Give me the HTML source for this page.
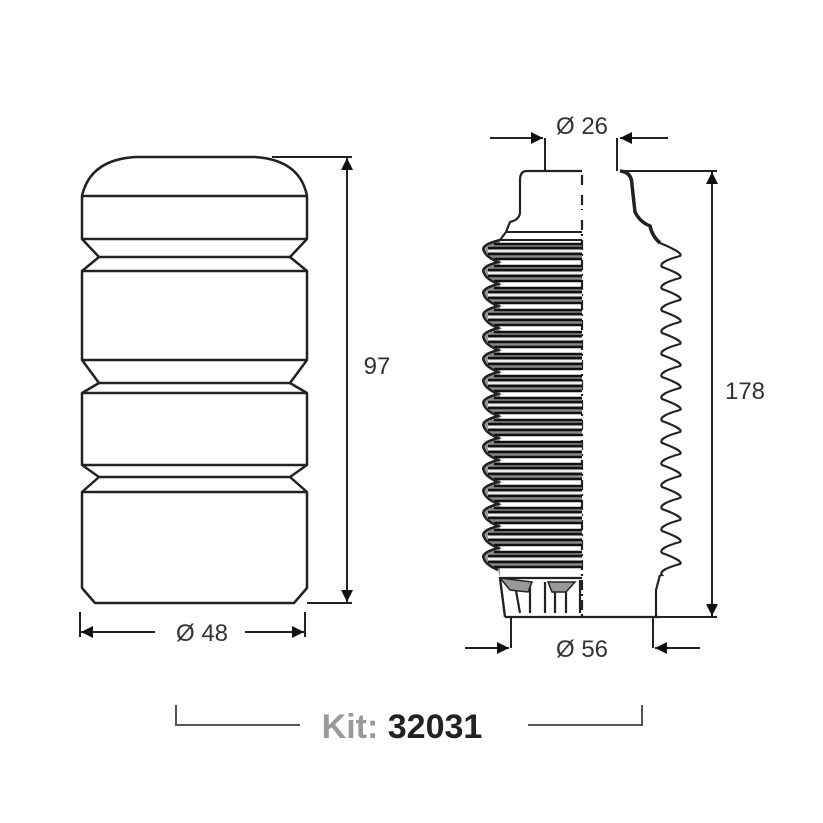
<!DOCTYPE html>
<html><head><style>
html,body{margin:0;padding:0;background:#fff;}
svg{display:block;}
text{font-family:"Liberation Sans",Arial,sans-serif;}
</style></head><body>
<svg id="s" width="823" height="823" viewBox="0 0 823 823" xmlns="http://www.w3.org/2000/svg">
<defs>
<marker id="b" viewBox="0 0 10 10" refX="10" refY="5" markerWidth="14" markerHeight="12" orient="auto" markerUnits="userSpaceOnUse"><path d="M0,0 L10,5 L0,10 z" fill="#111"/></marker>
</defs>
<g fill="none" stroke="#222" stroke-width="2.5" stroke-linejoin="round">
<path d="M82,196 Q90,160 135,157 L255,157 Q300,160 307,196 L307,239 L290,257 L307,271 L307,360 L290,383 L307,393 L307,465 L290,477 L307,492 L307,588 L294,603 L95,603 L82,588 L82,492 L99,477 L82,465 L82,393 L99,383 L82,360 L82,271 L99,257 L82,239 Z"/>
<path d="M82,196 H307 M82,239 H307 M99,257 H290 M82,271 H307 M82,360 H307 M99,383 H290 M82,393 H307 M82,465 H307 M99,477 H290 M82,492 H307"/>
</g>
<g fill="none" stroke="#222" stroke-width="2">
<path d="M272,157 H352 M307,603 H352"/>
<line x1="347" y1="380" x2="347" y2="158" marker-end="url(#b)"/>
<line x1="347" y1="380" x2="347" y2="602" marker-end="url(#b)"/>
<path d="M80,612 V637 M305,612 V637"/>
<line x1="155" y1="632" x2="81" y2="632" marker-end="url(#b)"/>
<line x1="245" y1="632" x2="304" y2="632" marker-end="url(#b)"/>
</g>
<text x="377" y="374" font-size="24" text-anchor="middle" fill="#333">97</text>
<text x="202" y="641" font-size="24" text-anchor="middle" fill="#333">Ø 48</text>

<g id="boot" fill="none" stroke="#222" stroke-width="2.2">
<path d="M582,171 H527 Q520,171 520,180 L520,213 Q519,220 510,222 L506,232 L500,240"/>
<path d="M620,171 Q632,172 632,185 L635,212 Q640,222 650,226 Q652,236 660,243" stroke-width="3.5"/>
<path d="M505,617 H660 M500,578 L505,617 M660,575 L656,590 L656,617"/>
<path d="M582,175 V185 M582,195 V210 M582,220 V620" stroke-dasharray="10,4,2,4"/>
</g>
<g id="ribs"></g>
<g fill="none" stroke="#222" stroke-width="2">
<path d="M545,138 V171 M617,138 V171"/>
<line x1="490" y1="138" x2="543" y2="138" marker-end="url(#b)"/>
<line x1="668" y1="138" x2="620" y2="138" marker-end="url(#b)"/>
<path d="M620,171 H717 M660,617 H717"/>
<line x1="712" y1="394" x2="712" y2="172" marker-end="url(#b)"/>
<line x1="712" y1="394" x2="712" y2="616" marker-end="url(#b)"/>
<path d="M511,617 V648 M653,617 V648"/>
<line x1="465" y1="648" x2="509" y2="648" marker-end="url(#b)"/>
<line x1="700" y1="648" x2="655" y2="648" marker-end="url(#b)"/>
</g>
<text x="582" y="134" font-size="24" text-anchor="middle" fill="#333">Ø 26</text>
<text x="582" y="657" font-size="24" text-anchor="middle" fill="#333">Ø 56</text>
<text x="745" y="399" font-size="24" text-anchor="middle" fill="#333">178</text>

<path d="M176,705 V725 H300 M528,725 H642 V705" fill="none" stroke="#555" stroke-width="2"/>
<text x="402" y="738" font-size="34" font-weight="bold" text-anchor="middle"><tspan fill="#999">Kit: </tspan><tspan fill="#222">32031</tspan></text>
</svg>
<script>
var g=document.getElementById('ribs');var h='';
var y0=240,p=22,n=15;
var d='M500,240';
for(var i=0;i<n;i++){var y=y0+i*p;d+=' Q480,'+(y+5)+' 484,'+(y+11)+' Q486,'+(y+17)+' 498,'+(y+p);}
h+='<path d="'+d+' L500,578" fill="#999" stroke="none"/>';
for(var i=0;i<n;i++){var y=y0+i*p;
h+='<rect x="490" y="'+(y+3)+'" width="92" height="16" fill="#888"/>';
h+='<path d="M494,'+(y+4)+' H582 M488,'+(y+8)+' H582 M488,'+(y+14)+' H582 M494,'+(y+19)+' H582" stroke="#111" stroke-width="2.6"/>';
h+='<path d="M488,'+(y+11)+' H582" stroke="#eee" stroke-width="2.5"/>';
}
h+='<path d="'+d+'" fill="none" stroke="#222" stroke-width="2.5"/>';
h+='<path d="M506,232 H582 M500,240 H582" stroke="#222" stroke-width="2"/>';
var r='M660,243';
for(var i=0;i<15;i++){var y=245+i*22;r+=' Q684,'+(y+8)+' 680,'+(y+11)+' Q658,'+(y+17)+' 662,'+(y+22);}
r+=' L660,575';
h+='<path d="'+r+'" fill="none" stroke="#222" stroke-width="2.2"/>';
h+='<path d="M500,578 H582 M500,578 L505,617 M515,585 L520,613 M530,582 V613 M545,582 V613 M555,582 V613 M566,582 V613 M580,580 V613" stroke="#222" stroke-width="2.2" fill="none"/>';
h+='<path d="M500,578 L510,590 L528,592 L532,582 Z M548,582 L552,592 L566,592 L575,582 Z" fill="#999" stroke="#222" stroke-width="1.5"/>';
g.innerHTML=h;
</script>
</body></html>
